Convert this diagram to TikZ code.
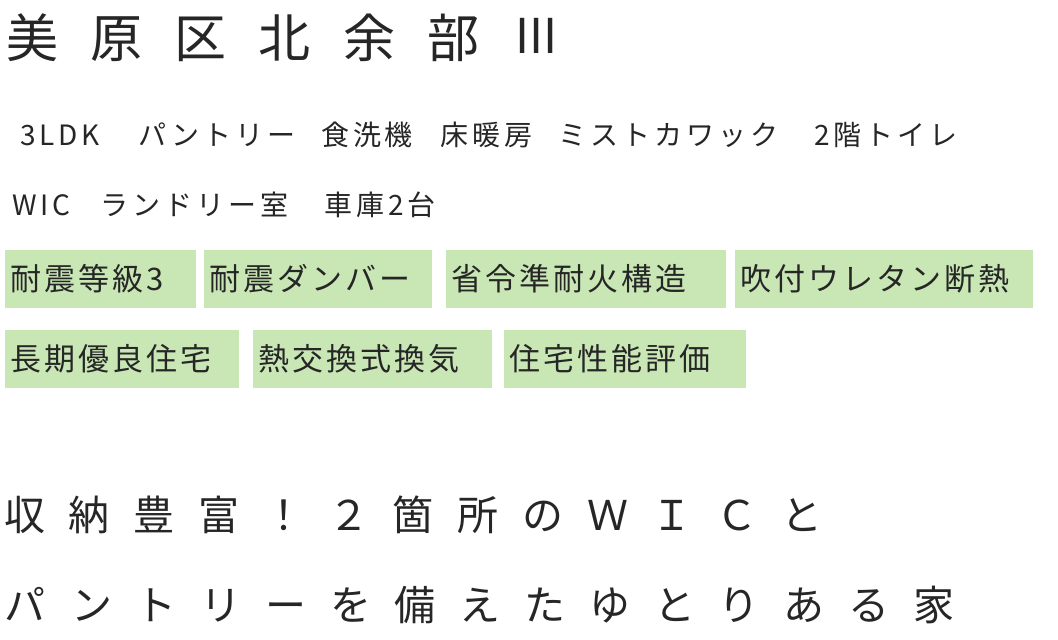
\documentclass[tikz,border=0pt]{standalone}
\usepackage{fontspec}
\newfontfamily\jp{Noto Sans CJK JP}
\newfontfamily\jpinfo[LetterSpace=14]{Noto Sans CJK JP}
\newfontfamily\jptag[LetterSpace=10]{Noto Sans CJK JP}
\newfontfamily\jpw[LetterSpace=58]{Noto Sans CJK JP}
\newfontfamily\jpt[LetterSpace=62]{Noto Sans CJK JP}
\definecolor{tagbg}{HTML}{C9E7B5}
\tikzset{
  tag/.style={fill=tagbg, anchor=west, inner xsep=5pt, inner ysep=0pt, minimum height=58pt,
    text width=#1, font=\jptag\fontsize{31}{31}\selectfont, text=black!85},
  info/.style={anchor=west, inner sep=0pt, font=\jpinfo\fontsize{28}{28}\selectfont, text=black!85},
  catch/.style={anchor=west, inner sep=0pt, font=\jpw\fontsize{41}{41}\selectfont, text=black!85}
}
\begin{document}
\begin{tikzpicture}[x=1pt,y=-1pt]
\useasboundingbox (0,0) rectangle (1058,640);
\node[anchor=west, inner sep=0pt, font=\jpt\fontsize{52}{52}\selectfont, text=black!85] (title) at (6,38) {美原区北余部};
\node[anchor=west, inner sep=0pt, font=\jp\fontsize{48}{48}\selectfont, text=black!85] (roman) at (515,36) {III};
\node[info] (feat1) at (20,135) {3LDK\hspace{38pt}パントリー\hspace{26pt}食洗機\hspace{28pt}床暖房\hspace{26pt}ミストカワック\hspace{36pt}2階トイレ};
\node[info] (feat2) at (12,205) {WIC\hspace{30pt}ランドリー室\hspace{36pt}車庫2台};
% tags, first row
\node[tag=181pt] (t1) at (5,279) {耐震等級3};
\node[tag=218pt] (t2) at (204,279) {耐震ダンバー};
\node[tag=270pt] (t3) at (446,279) {省令準耐火構造};
\node[tag=288pt] (t4) at (735,279) {吹付ウレタン断熱};
% tags, second row
\node[tag=224pt] (t5) at (5,359) {長期優良住宅};
\node[tag=229pt] (t6) at (253,359) {熱交換式換気};
\node[tag=232pt] (t7) at (504,359) {住宅性能評価};
\node[catch] (c1) at (4,515) {収納豊富！２箇所のＷＩＣと};
\node[catch] (c2) at (4,605) {パントリーを備えたゆとりある家};
\end{tikzpicture}
\end{document}
